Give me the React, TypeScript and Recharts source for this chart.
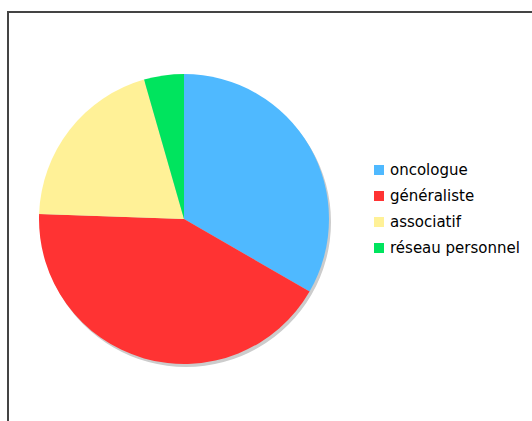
import { PieChart, Pie, Cell, Legend } from 'recharts';

const categories = ['oncologue', 'généraliste', 'associatif', 'réseau personnel'];
const values = [15, 19, 9, 2];
const colors = ['#4FB9FF', '#FF3333', '#FFF197', '#00E45E'];

const data = categories.map((name, i) => ({ name, value: values[i] }));
const shadow = [{ name: 'shadow', value: 1 }];

const renderLegend = () => (
    <div style={{ fontFamily: 'DejaVu Sans, Verdana, sans-serif', fontSize: 15, color: '#000' }}>
        {data.map((d, i) => (
            <div key={d.name} style={{ display: 'flex', alignItems: 'center', height: 26 }}>
                <span style={{ display: 'inline-block', width: 10, height: 10, background: colors[i], marginRight: 6 }} />
                <span>{d.name}</span>
            </div>
        ))}
    </div>
);

export default function App() {
    return (
        <div style={{ position: 'absolute', left: 0, top: 0, width: 532, height: 421, overflow: 'hidden', background: '#fff' }}>
            <div style={{ position: 'absolute', left: 7, top: 11, width: 600, height: 500, border: '2px solid #444', boxSizing: 'border-box' }} />
            <div style={{ position: 'absolute', left: 0, top: 0 }}>
                <PieChart width={532} height={421}>
                    <Pie
                        data={shadow}
                        dataKey="value"
                        cx={181}
                        cy={217}
                        outerRadius={145}
                        fill="#cccccc"
                        stroke="none"
                        isAnimationActive={false}
                    />
                    <Pie
                        data={data}
                        dataKey="value"
                        nameKey="name"
                        cx={179}
                        cy={214}
                        outerRadius={145}
                        startAngle={90}
                        endAngle={-270}
                        stroke="none"
                        isAnimationActive={false}
                    >
                        {data.map((d, i) => (
                            <Cell key={d.name} fill={colors[i]} />
                        ))}
                    </Pie>
                    <Legend
                        content={renderLegend}
                        wrapperStyle={{ position: 'absolute', left: 374, top: 157, width: 160 }}
                    />
                </PieChart>
            </div>
        </div>
    );
}
